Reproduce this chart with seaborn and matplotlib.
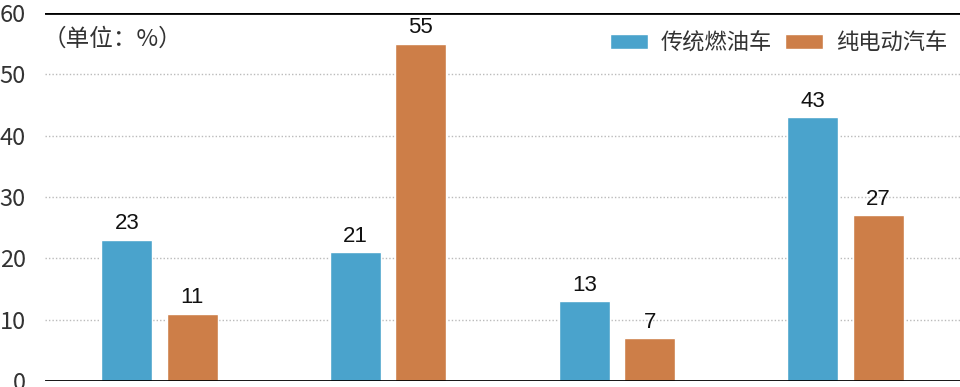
import matplotlib
matplotlib.use('Agg')
import matplotlib.pyplot as plt
import seaborn as sns
import pandas as pd

# data
groups = ['1', '2', '3', '4']
series = ['传统燃油车', '纯电动汽车']
fuel_car = [23, 21, 13, 43]
ev_car = [11, 55, 7, 27]
colors = ['#4aa3cc', '#cd7e48']

df = pd.DataFrame({
    'group': groups * 2,
    'type': [series[0]] * 4 + [series[1]] * 4,
    'value': fuel_car + ev_car,
})

sns.set_style('white')
plt.rcParams['font.family'] = ['Noto Sans CJK SC', 'DejaVu Sans']

fig = plt.figure(figsize=(9.6, 3.87), dpi=100)
ax = fig.add_axes([0.047, 0.0155, 0.953, 0.9505])

sns.barplot(data=df, x='group', y='value', hue='type', palette=colors,
            width=0.572, gap=0.22, ax=ax, saturation=1)

# value labels in a plain sans face, like the original
for c in ax.containers:
    ax.bar_label(c, fmt='%d', padding=4, fontsize=16, color='#111111',
                 family='Liberation Sans')

ax.set_ylim(0, 60)
ax.set_xlim(-0.5, 3.5)
ax.set_yticks(range(0, 61, 10))
ax.set_xticks([])
ax.set_xlabel('')
ax.set_ylabel('')
ax.tick_params(axis='y', length=0, labelsize=17, labelcolor='#333333', pad=14)
for t in ax.get_yticklabels():
    t.set_fontweight('light')

for y in range(10, 60, 10):
    ax.axhline(y, color='#bbbbbb', lw=1, ls=(0, (1, 1.5)), zorder=0)
ax.axhline(60, color='black', lw=2, zorder=3)
ax.axhline(0, color='black', lw=2, zorder=3)
for s in ax.spines.values():
    s.set_visible(False)

ax.text(-0.003, 0.928, '（单位：%）', transform=ax.transAxes, fontsize=17,
        color='#333333', va='center', ha='left', fontweight='light')

leg = ax.legend(loc='upper right', bbox_to_anchor=(0.986, 0.95), ncol=2, frameon=False,
                fontsize=16, handlelength=1.67, handleheight=0.63, columnspacing=0.6,
                handletextpad=0.6, borderpad=0, borderaxespad=0)
for t in leg.get_texts():
    t.set_color('#333333')
    t.set_fontweight('light')

fig.savefig('out.png', dpi=100)
